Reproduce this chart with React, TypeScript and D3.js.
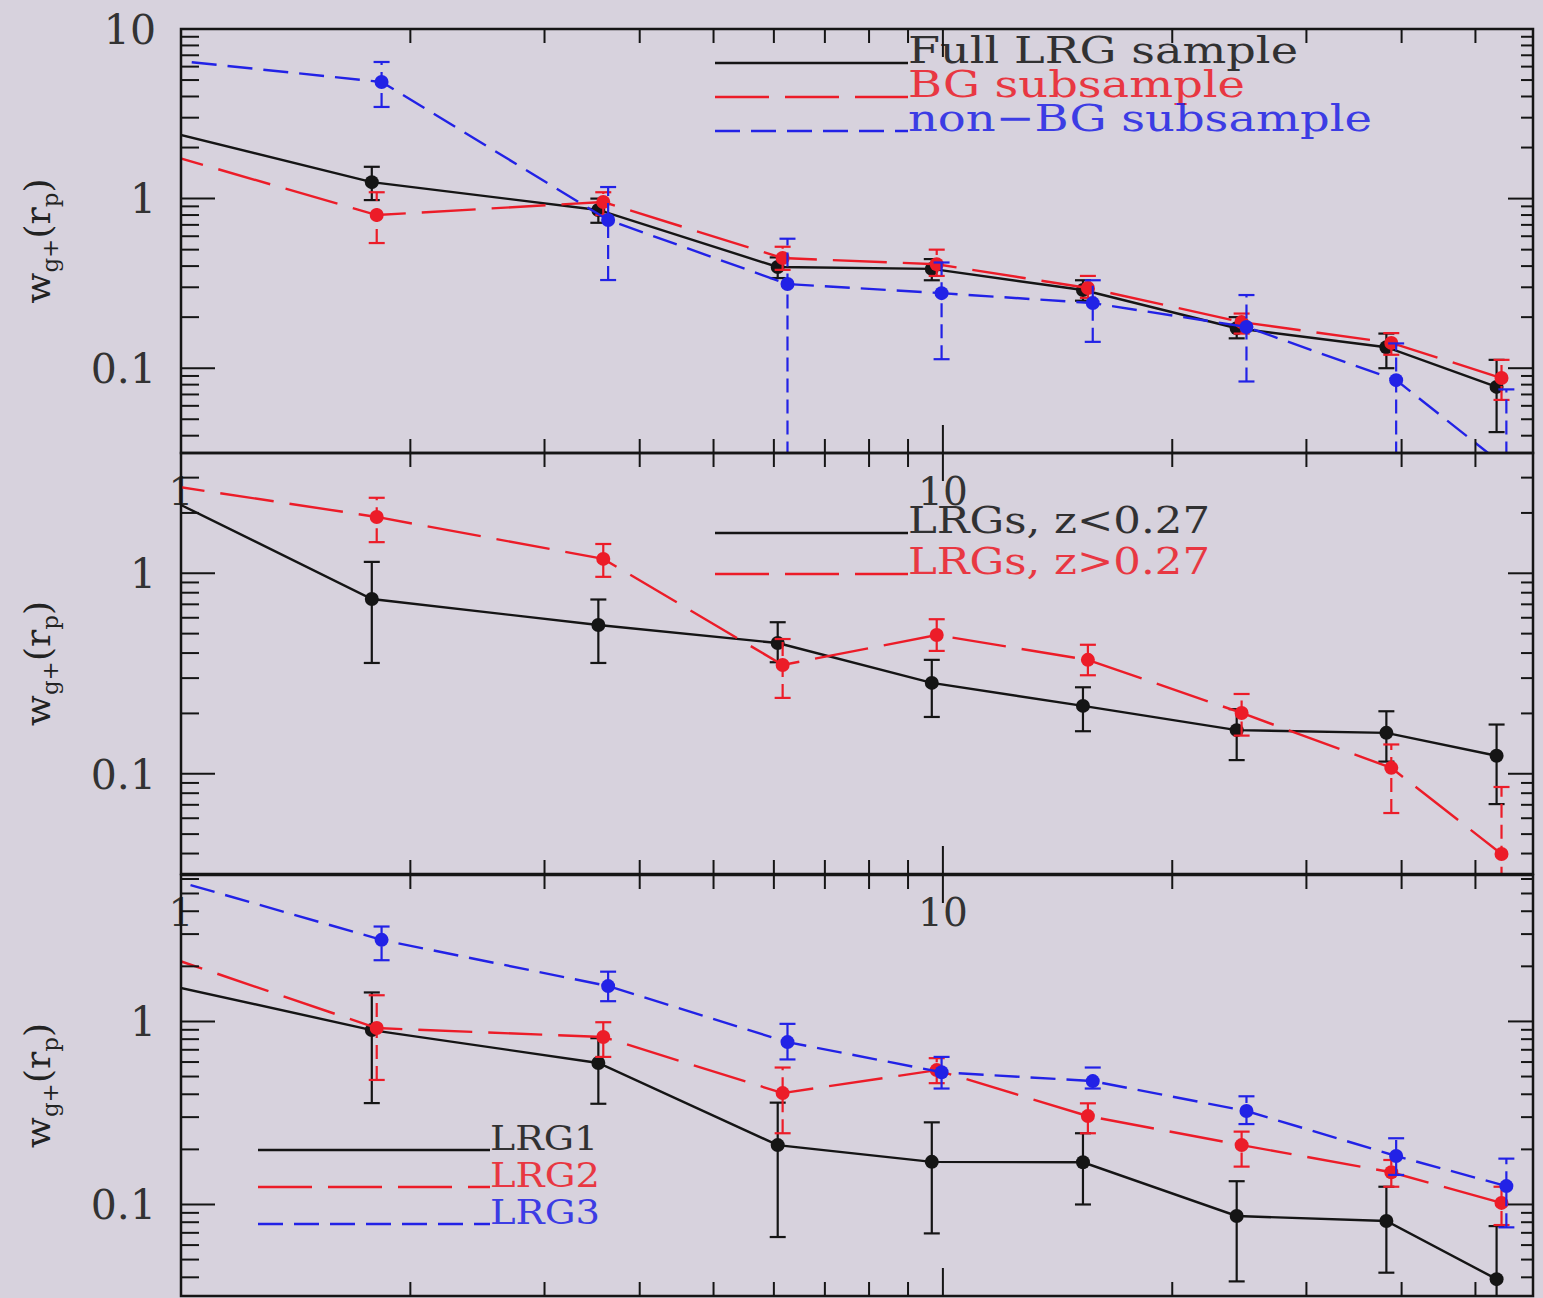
import React from 'react';
import * as d3 from 'd3';

// ---------- data ----------
// projected separation bins (first bin lies left of the plotted range and is clipped)
const RP = [0.9, 1.78, 3.53, 6.07, 9.67, 15.27, 24.3, 38.2, 53.3];

// Panel 1: full sample / BG / non-BG
const fullLRG = [2.67, 1.25, 0.857, 0.395, 0.385, 0.289, 0.172, 0.133, 0.0776];
const fullLRGLo = [2.67, 0.98, 0.72, 0.34, 0.33, 0.25, 0.15, 0.1, 0.042];
const fullLRGHi = [2.67, 1.54, 1.0, 0.45, 0.44, 0.33, 0.2, 0.16, 0.112];

const bgSub = [1.94, 0.8, 0.955, 0.446, 0.41, 0.297, 0.187, 0.141, 0.0875];
const bgSubLo = [1.94, 0.547, 0.8, 0.38, 0.35, 0.26, 0.16, 0.12, 0.065];
const bgSubHi = [1.94, 1.09, 1.09, 0.52, 0.5, 0.35, 0.21, 0.161, 0.112];

const nonBgSub = [6.7, 4.87, 0.748, 0.3135, 0.277, 0.242, 0.175, 0.085, 0.026];
const nonBgSubLo = [6.7, 3.47, 0.331, 0.001, 0.113, 0.143, 0.0835, 0.001, 0.001];
const nonBgSubHi = [6.7, 6.39, 1.17, 0.58, 0.42, 0.33, 0.27, 0.14, 0.075];

// Panel 2: redshift split
const lowZ = [2.67, 0.744, 0.552, 0.449, 0.284, 0.218, 0.165, 0.16, 0.123];
const lowZLo = [2.67, 0.357, 0.357, 0.36, 0.192, 0.163, 0.117, 0.115, 0.0706];
const lowZHi = [2.67, 1.14, 0.74, 0.57, 0.37, 0.27, 0.21, 0.205, 0.176];

const highZ = [2.83, 1.91, 1.18, 0.349, 0.492, 0.37, 0.201, 0.107, 0.0398];
const highZLo = [2.83, 1.43, 0.96, 0.239, 0.41, 0.31, 0.155, 0.0637, 0.001];
const highZHi = [2.83, 2.38, 1.4, 0.47, 0.59, 0.44, 0.25, 0.14, 0.0859];

// Panel 3: luminosity bins
const lrg1 = [1.68, 0.897, 0.593, 0.211, 0.171, 0.17, 0.0865, 0.0812, 0.0391];
const lrg1Lo = [1.68, 0.358, 0.355, 0.0664, 0.0695, 0.1, 0.038, 0.0424, 0.001];
const lrg1Hi = [1.68, 1.44, 0.81, 0.36, 0.281, 0.245, 0.134, 0.125, 0.0762];

const lrg2 = [2.42, 0.92, 0.822, 0.406, 0.542, 0.304, 0.211, 0.15, 0.102];
const lrg2Lo = [2.42, 0.479, 0.64, 0.245, 0.46, 0.245, 0.161, 0.125, 0.0772];
const lrg2Hi = [2.42, 1.39, 0.99, 0.56, 0.63, 0.357, 0.25, 0.175, 0.125];

const lrg3 = [6.3, 2.79, 1.56, 0.771, 0.528, 0.472, 0.324, 0.184, 0.126];
const lrg3Lo = [6.3, 2.16, 1.29, 0.62, 0.43, 0.43, 0.275, 0.145, 0.075];
const lrg3Hi = [6.3, 3.3, 1.87, 0.97, 0.64, 0.56, 0.39, 0.23, 0.178];

// axis ticks
const X_MINOR = [2, 3, 4, 5, 6, 7, 8, 9, 20, 30, 40, 50];
const X_MAJOR = [1, 10];
const X_LABELS = ['1', '10'];
const Y_MULT = [2, 3, 4, 5, 6, 7, 8, 9];
const Y_LABELS: Record<string, string> = { '10': '10', '1': '1', '0.1': '0.1' };

// ---------- styles ----------
const BG = '#d7d2dd';
const INK = '#151515';
const RED = '#ec1c28';
const BLUE = '#2222e6';
const FONT = '"DejaVu Serif", serif';
const DASH_RED = '54 16';
const DASH_BLUE = '25 11';

const W = 1543;
const H = 1298;
const LEFT = 181;
const RIGHT = 1533;

const x = d3.scaleLog().domain([1, 59.5]).range([LEFT, RIGHT]);

type Series = { name: string; color: string; dash: string | null; shift: number; v: number[]; lo: number[]; hi: number[]; textLen: number };

type Panel = {
  top: number;
  bottom: number;
  yDomain: [number, number];
  series: Series[];
  legend: { x1: number; x2: number; y0: number; dy: number; fontSize: number };
  xLabels: boolean;
};

const panels: Panel[] = [
  {
    top: 29, bottom: 453, yDomain: [Math.pow(10, -1.5), 10], xLabels: true,
    legend: { x1: 715, x2: 908, y0: 63, dy: 34, fontSize: 38 },
    series: [
      { name: 'Full LRG sample', color: INK, dash: null, shift: 1, v: fullLRG, lo: fullLRGLo, hi: fullLRGHi, textLen: 390 },
      { name: 'BG subsample', color: RED, dash: DASH_RED, shift: 1.015, v: bgSub, lo: bgSubLo, hi: bgSubHi, textLen: 337 },
      { name: 'non\u2212BG subsample', color: BLUE, dash: DASH_BLUE, shift: 1.03, v: nonBgSub, lo: nonBgSubLo, hi: nonBgSubHi, textLen: 464 },
    ],
  },
  {
    top: 453, bottom: 874, yDomain: [Math.pow(10, -1.5), Math.pow(10, 0.6)], xLabels: true,
    legend: { x1: 715, x2: 908, y0: 533, dy: 41, fontSize: 37 },
    series: [
      { name: 'LRGs, z<0.27', color: INK, dash: null, shift: 1, v: lowZ, lo: lowZLo, hi: lowZHi, textLen: 302 },
      { name: 'LRGs, z>0.27', color: RED, dash: DASH_RED, shift: 1.015, v: highZ, lo: highZLo, hi: highZHi, textLen: 302 },
    ],
  },
  {
    top: 875, bottom: 1296, yDomain: [Math.pow(10, -1.5), Math.pow(10, 0.8)], xLabels: false,
    legend: { x1: 258, x2: 490, y0: 1150, dy: 37, fontSize: 34 },
    series: [
      { name: 'LRG1', color: INK, dash: null, shift: 1, v: lrg1, lo: lrg1Lo, hi: lrg1Hi, textLen: 108 },
      { name: 'LRG2', color: RED, dash: DASH_RED, shift: 1.015, v: lrg2, lo: lrg2Lo, hi: lrg2Hi, textLen: 110 },
      { name: 'LRG3', color: BLUE, dash: DASH_BLUE, shift: 1.03, v: lrg3, lo: lrg3Lo, hi: lrg3Hi, textLen: 110 },
    ],
  },
];

function yTicks(domain: [number, number]) {
  const major: number[] = [];
  const minor: number[] = [];
  const k0 = Math.floor(Math.log10(domain[0]));
  const k1 = Math.ceil(Math.log10(domain[1]));
  for (let k = k0; k <= k1; k++) {
    const base = Math.pow(10, k);
    if (base >= domain[0] * 0.999 && base <= domain[1] * 1.001) major.push(base);
    Y_MULT.forEach((m) => {
      const v = m * base;
      if (v > domain[0] && v < domain[1]) minor.push(v);
    });
  }
  return { major, minor };
}

function fmt(v: number) {
  const key = v >= 1 ? String(Math.round(v)) : String(+v.toPrecision(1));
  return Y_LABELS[key] ?? key;
}

function PanelView({ p, idx }: { p: Panel; idx: number }) {
  const y = d3.scaleLog().domain(p.yDomain).range([p.bottom, p.top]);
  const { major, minor } = yTicks(p.yDomain);
  const clipId = `clip-${idx}`;
  const line = (s: Series) =>
    d3.line<number>()
      .x((_, i) => x(RP[i] * s.shift))
      .y((d) => y(d))(s.v) as string;

  return (
    <g>
      <defs>
        <clipPath id={clipId}>
          <rect x={LEFT} y={p.top} width={RIGHT - LEFT} height={p.bottom - p.top} />
        </clipPath>
      </defs>

      {/* legend */}
      {p.series.map((s, i) => {
        const ly = p.legend.y0 + i * p.legend.dy;
        return (
          <g key={'lg' + i}>
            <line x1={p.legend.x1} x2={p.legend.x2} y1={ly} y2={ly} stroke={s.color} strokeWidth={2.3}
              strokeDasharray={s.dash ?? undefined} />
            <text x={p.legend.x2} y={ly} fill={s.color} fontFamily={FONT} fontSize={p.legend.fontSize}
              textLength={s.textLen} lengthAdjust="spacingAndGlyphs" opacity={0.85}>{s.name}</text>
          </g>
        );
      })}

      {/* data */}
      <g clipPath={`url(#${clipId})`}>
        {p.series.map((s, si) => (
          <g key={'s' + si}>
            <path d={line(s)} fill="none" stroke={s.color} strokeWidth={2.4}
              strokeDasharray={s.dash ?? undefined} />
            {s.v.map((v, i) => {
              const cx = x(RP[i] * s.shift);
              const yl = y(s.lo[i]);
              const yh = y(s.hi[i]);
              return (
                <g key={i}>
                  <line x1={cx} x2={cx} y1={yl} y2={yh} stroke={s.color} strokeWidth={2.2}
                    strokeDasharray={s.dash ? '14 7' : undefined} />
                  <line x1={cx - 8} x2={cx + 8} y1={yl} y2={yl} stroke={s.color} strokeWidth={2.2} />
                  <line x1={cx - 8} x2={cx + 8} y1={yh} y2={yh} stroke={s.color} strokeWidth={2.2} />
                  <circle cx={cx} cy={y(v)} r={7} fill={s.color} />
                </g>
              );
            })}
          </g>
        ))}
      </g>

      {/* x ticks */}
      {X_MINOR.map((t) => (
        <g key={'xm' + t}>
          <line x1={x(t)} x2={x(t)} y1={p.top} y2={p.top + 14} stroke={INK} strokeWidth={2} />
          <line x1={x(t)} x2={x(t)} y1={p.bottom} y2={p.bottom - 14} stroke={INK} strokeWidth={2} />
        </g>
      ))}
      {X_MAJOR.map((t) => (
        <g key={'xM' + t}>
          <line x1={x(t)} x2={x(t)} y1={p.top} y2={p.top + 28} stroke={INK} strokeWidth={2} />
          <line x1={x(t)} x2={x(t)} y1={p.bottom} y2={p.bottom - 28} stroke={INK} strokeWidth={2} />
        </g>
      ))}

      {/* y ticks */}
      {minor.map((t) => (
        <g key={'ym' + t}>
          <line x1={LEFT} x2={LEFT + 18} y1={y(t)} y2={y(t)} stroke={INK} strokeWidth={2} />
          <line x1={RIGHT} x2={RIGHT - 12} y1={y(t)} y2={y(t)} stroke={INK} strokeWidth={2} />
        </g>
      ))}
      {major.map((t) => (
        <g key={'yM' + t}>
          <line x1={LEFT} x2={LEFT + 34} y1={y(t)} y2={y(t)} stroke={INK} strokeWidth={2} />
          <line x1={RIGHT} x2={RIGHT - 25} y1={y(t)} y2={y(t)} stroke={INK} strokeWidth={2} />
          <text x={156} y={y(t)} dy="0.36em" textAnchor="end" fontFamily={FONT} fontSize={41} fill="#333">
            {fmt(t)}
          </text>
        </g>
      ))}

      {/* frame */}
      <rect x={LEFT} y={p.top} width={RIGHT - LEFT} height={p.bottom - p.top} fill="none" stroke={INK} strokeWidth={2.5} />

      {/* x tick labels below the panel */}
      {p.xLabels && X_MAJOR.map((t, i) => (
        <text key={'xl' + t} x={x(t)} y={p.bottom + 38} dy="0.36em" textAnchor="middle"
          fontFamily={FONT} fontSize={39} fill="#333">{X_LABELS[i]}</text>
      ))}

      {/* y axis title */}
      <text transform={`translate(50, ${(p.top + p.bottom) / 2}) rotate(-90)`} textAnchor="middle"
        fontFamily={FONT} fontSize={36} fill="#222">
        w<tspan fontSize={23} dy={8}>g+</tspan><tspan dy={-8}>(r</tspan><tspan fontSize={23} dy={8}>p</tspan><tspan dy={-8}>)</tspan>
      </text>
    </g>
  );
}

export default function App() {
  return (
    <svg width={W} height={H} style={{ position: 'absolute', left: 0, top: 0, background: BG }}>
      <rect x={0} y={0} width={W} height={H} fill={BG} />
      {panels.map((p, i) => (
        <PanelView key={i} p={p} idx={i} />
      ))}
    </svg>
  );
}
